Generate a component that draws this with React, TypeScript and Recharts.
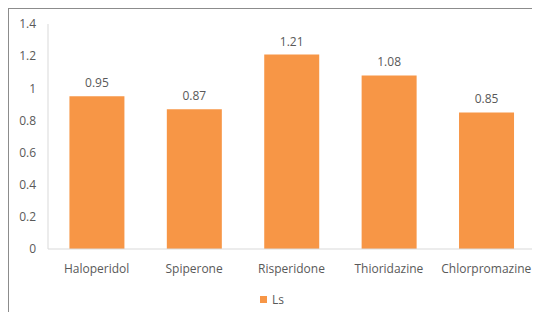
import React from 'react';
import { BarChart, Bar, XAxis, YAxis, Legend, LabelList } from 'recharts';

const categories = ['Haloperidol', 'Spiperone', 'Risperidone', 'Thioridazine', 'Chlorpromazine'];
const lsValues = [0.95, 0.87, 1.21, 1.08, 0.85];
const yTicks = [0, 0.2, 0.4, 0.6, 0.8, 1, 1.2, 1.4];

const data = categories.map((name, i) => ({ name, Ls: lsValues[i] }));

const FONT = '"Open Sans", "Liberation Sans", sans-serif';
const TEXT = '#595959';

const LegendContent = () => (
  <div style={{ display: 'flex', justifyContent: 'center', alignItems: 'center', fontFamily: FONT, fontSize: 12, color: TEXT, height: 20 }}>
    <span style={{ display: 'inline-block', width: 7, height: 7, background: '#F79646', marginRight: 5 }} />
    <span>Ls</span>
  </div>
);

export default function App() {
  return (
    <div style={{ width: 532, height: 304, borderTop: '1px solid #8c8c8c', borderLeft: '1px solid #8c8c8c', overflow: 'hidden' }}>
      <BarChart
        width={531}
        height={303}
        data={data}
        margin={{ top: 15, right: 5, left: 0, bottom: 0 }}
        barCategoryGap="22%"
      >
        <XAxis
          dataKey="name"
          axisLine={{ stroke: '#d9d9d9' }}
          tickLine={false}
          tick={{ fill: TEXT, fontSize: 12, fontFamily: FONT }}
          tickMargin={9}
          height={43}
        />
        <YAxis
          domain={[0, 1.4]}
          ticks={yTicks}
          width={39}
          axisLine={{ stroke: '#d9d9d9' }}
          tickLine={false}
          tickMargin={6}
          tick={{ fill: TEXT, fontSize: 12, fontFamily: FONT }}
        />
        <Legend verticalAlign="bottom" content={<LegendContent />} wrapperStyle={{ bottom: 3 }} />
        <Bar dataKey="Ls" fill="#F79646" isAnimationActive={false}>
          <LabelList dataKey="Ls" position="top" offset={9} style={{ fill: TEXT, fontSize: 12, fontFamily: FONT }} />
        </Bar>
      </BarChart>
    </div>
  );
}
